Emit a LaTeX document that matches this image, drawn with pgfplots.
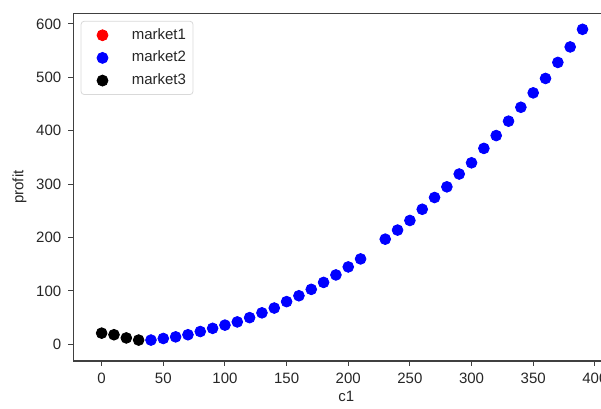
\documentclass[border=0pt]{standalone}
\usepackage{pgfplots}
\pgfplotsset{compat=1.18}
\usepackage{fontspec}
\setmainfont{Liberation Sans}
\definecolor{txt}{HTML}{262626}
\begin{document}
\begin{tikzpicture}
\begin{axis}[
  scale only axis,
  width=273.1pt, height=173.8pt,
  xmin=-23, xmax=420, ymin=-31, ymax=620,
  xtick={0,50,...,400}, ytick={0,100,...,600},
  tick align=outside, tick pos=left,
  major tick length=2.5pt,
  axis line style={draw=black!75, line width=0.7pt},
  tick style={draw=black!75, line width=0.5pt},
  every tick label/.append style={font=\fontsize{7.5pt}{9pt}\selectfont, text=txt},
  /pgf/number format/assume math mode=true,
  xlabel={c1}, ylabel={profit},
  label style={font=\fontsize{7.5pt}{9pt}\selectfont, text=txt},
  xlabel style={yshift=3pt},
  ylabel style={yshift=-2pt},
  legend style={at={(rel axis cs:0,1)}, anchor=north west, xshift=3.7pt, yshift=-3.8pt,
    draw=black!15, rounded corners=1.5pt, font=\fontsize{7.5pt}{9pt}\selectfont, text=txt,
    row sep=0.4pt, inner sep=1.5pt},
  legend cell align=left,
  legend image code/.code={\path (0pt,0pt); \draw[#1] (9pt,0pt) circle (2.75pt);},
]
\coordinate (tl) at (rel axis cs:0,1);
\addlegendimage{only marks, mark=*, draw=red, fill=red}
\addlegendentry{\hspace{9.7pt}market1}
\addplot[only marks, mark=*, mark size=2.7pt, draw=blue, fill=blue, mark options={draw=blue, fill=blue}] coordinates {
(40,8) (50,11) (60,14) (70,18) (80,24) (90,30) (100,36) (110,42) (120,50) (130,59)
(140,68) (150,80) (160,91) (170,103) (180,116) (190,130) (200,145) (210,160)
(230,197) (240,214) (250,232) (260,253) (270,275) (280,295) (290,319) (300,340)
(310,367) (320,391) (330,418) (340,444) (350,471) (360,498) (370,528) (380,557) (390,590)
};
\addlegendentry{\hspace{9.7pt}market2}
\addplot[only marks, mark=*, mark size=2.7pt, draw=black, fill=black, mark options={draw=black, fill=black}] coordinates {
(0,21) (10,18) (20,12) (30,8)
};
\addlegendentry{\hspace{9.7pt}market3}
\end{axis}
\pgfresetboundingbox
\path[use as bounding box] (tl) ++(-36.65pt,6.65pt) rectangle ++(300.5pt,-204pt);
\end{tikzpicture}
\end{document}
